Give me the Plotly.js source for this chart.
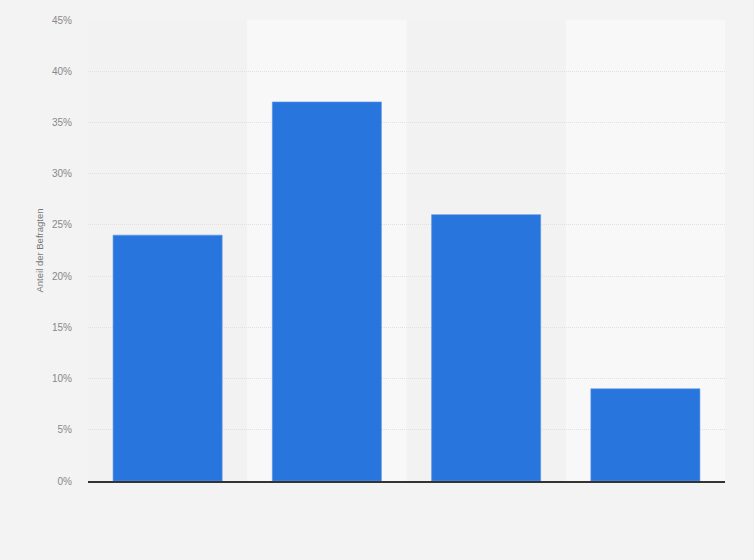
<!DOCTYPE html>
<html>
<head>
<meta charset="utf-8">
<script src="https://cdn.plot.ly/plotly-3.0.1.min.js"></script>
<style>html,body{margin:0;padding:0;background:#f3f3f3;}#chart{width:754px;height:560px;}</style>
</head>
<body>
<div id="chart"></div>
<script>
const categories = ["Kategorie 1", "Kategorie 2", "Kategorie 3", "Kategorie 4"];
const values = [24, 37, 26, 9];
const tickValues = [0, 5, 10, 15, 20, 25, 30, 35, 40, 45];
const tickLabels = ["0%", "5%", "10%", "15%", "20%", "25%", "30%", "35%", "40%", "45%"];
const yTitle = "Anteil der Befragten";

const bands = [1, 3].map(i => ({
  type: "rect", xref: "x", yref: "paper",
  x0: i - 0.5, x1: i + 0.5, y0: 0, y1: 1,
  fillcolor: "#f8f8f8", line: {width: 0}, layer: "below"
}));

Plotly.newPlot("chart", [{
  type: "bar",
  x: categories,
  y: values,
  marker: {color: "#2876dd", line: {color: "#5a95e6", width: 0.6}},
  hoverinfo: "none"
}], {
  width: 754, height: 560,
  margin: {l: 88, r: 29, t: 20, b: 79},
  paper_bgcolor: "#f3f3f3",
  plot_bgcolor: "#f2f2f2",
  bargap: 0.315,
  showlegend: false,
  shapes: bands,
  font: {family: "Arial, 'Liberation Sans', sans-serif", color: "#777"},
  xaxis: {
    type: "category",
    showticklabels: false,
    showgrid: false,
    zeroline: false,
    showline: true,
    linecolor: "#333",
    linewidth: 1.5,
    ticks: ""
  },
  yaxis: {
    range: [0, 45],
    tickvals: tickValues,
    ticktext: tickLabels,
    tickfont: {size: 10, color: "#888"},
    showgrid: true,
    gridcolor: "#e0e0e0",
    griddash: "1px,1px",
    gridwidth: 1,
    zeroline: false,
    showline: false,
    ticks: "",
    ticklabelstandoff: 15,
    title: {text: yTitle, font: {size: 9.5, color: "#777"}, standoff: 6}
  }
}, {displayModeBar: false, staticPlot: true});
</script>
</body>
</html>
